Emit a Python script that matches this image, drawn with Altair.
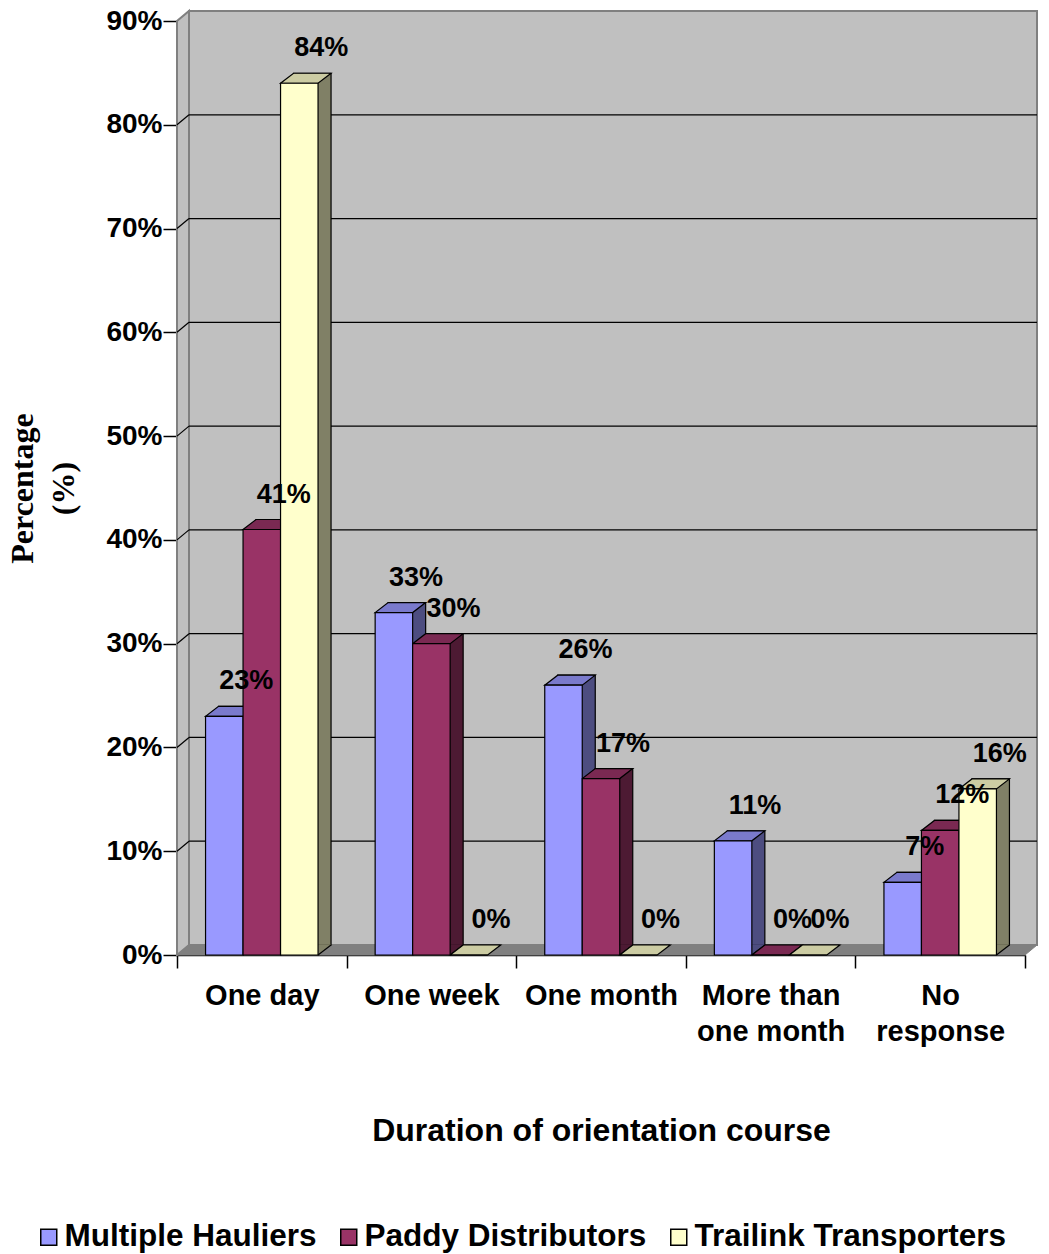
import altair as alt
import pandas as pd

# ---- data -------------------------------------------------------------
categories = ["One day", "One week", "One month", "More than one month", "No response"]
series = ["Multiple Hauliers", "Paddy Distributors", "Trailink Transporters"]
multiple_hauliers = [23, 33, 26, 11, 7]
paddy_distributors = [41, 30, 17, 0, 12]
trailink_transporters = [84, 0, 0, 0, 16]
y_ticks = [0, 10, 20, 30, 40, 50, 60, 70, 80, 90]
grid_levels = [10, 20, 30, 40, 50, 60, 70, 80]

# ---- styling ----------------------------------------------------------
front_colors = ["#9999ff", "#993366", "#ffffcc"]
top_colors = ["#7a7acc", "#7a2952", "#cccca3"]
side_colors = ["#4d4d80", "#4d1a33", "#808066"]
WALL = "#c0c0c0"
WALL_EDGE = "#808080"
FLOOR = "#808080"
SANS = "Liberation Sans"
SERIF = "Liberation Serif"

W, H = 848, 934            # plot area
STEP = W / len(categories)
BAR_W = 37.5
PAD_OUTER = (STEP / BAR_W - len(series)) / 2
DX, DY = 13, 10            # bar depth
WALL_DX, WALL_DY = 12, 10  # depth of back wall
EDGE = 1.2

rows = []
for cat, a, b, c in zip(categories, multiple_hauliers, paddy_distributors, trailink_transporters):
    for s, v in zip(series, (a, b, c)):
        rows.append({"category": cat, "series": s, "value": v, "label": f"{v}%"})
df = pd.DataFrame(rows)
grid_df = pd.DataFrame({"value": grid_levels})
one = pd.DataFrame({"value": [0]})

y_scale = alt.Scale(domain=[0, 90], nice=False, zero=True)
x_scale = alt.Scale(domain=categories, paddingInner=0, paddingOuter=0)


def xoff(shift=0):
    return alt.XOffset(
        "series:N", sort=series,
        scale=alt.Scale(type="band", domain=series, range=[shift, STEP + shift],
                        paddingInner=0, paddingOuter=PAD_OUTER),
    )


x_axis = alt.Axis(
    title="Duration of orientation course",
    domainColor="black", domainWidth=1.5,
    tickColor="black", tickWidth=1.5, tickSize=13, tickBand="extent",
    labelAngle=0, labelFont=SANS, labelFontSize=29, labelFontWeight="bold",
    labelColor="black", labelPadding=13, labelLineHeight=36, labelLimit=400,
    labelOverlap=False, labelBound=False,
    labelExpr=("datum.label == 'More than one month' ? ['More than', 'one month'] : "
               "datum.label == 'No response' ? ['No', 'response'] : datum.label"),
    titleFont=SANS, titleFontSize=32, titleFontWeight="bold", titleColor="black",
    titleX=W / 2, titleY=175, titleAlign="center", titleBaseline="middle",
    grid=False,
)
y_axis = alt.Axis(
    values=y_ticks, labelExpr="datum.value + '%'",
    domainColor="black", domainWidth=1.5,
    tickColor="black", tickWidth=1.5, tickSize=14,
    labelFont=SANS, labelFontSize=28, labelFontWeight="bold", labelColor="black",
    labelPadding=1,
    title=["Percentage", "(%)"], titleFont=SERIF, titleFontSize=32,
    titleFontWeight="bold", titleColor="black", titleAngle=270,
    titleX=-155, titleY=H / 2, titleAlign="center", titleBaseline="middle",
    titleLineHeight=41, grid=False,
)

x_enc = alt.X("category:N", sort=categories, scale=x_scale, axis=x_axis)
y_enc = alt.Y("value:Q", scale=y_scale, axis=y_axis)
y_zero = alt.Y(datum=0, scale=y_scale, axis=y_axis)

# ---- chart walls --------------------------------------------------------
back_wall = alt.Chart(one).mark_rect(
    fill=WALL, stroke=WALL_EDGE, strokeWidth=2, yOffset=-WALL_DY, y2Offset=-WALL_DY
).encode(
    x=alt.value(WALL_DX), x2=alt.value(W + WALL_DX),
    y=alt.Y(datum=90, scale=y_scale, axis=y_axis), y2=alt.Y2(datum=0),
)

left_wall_path = f"M0,0 L0,{-H} L{WALL_DX},{-H - WALL_DY} L{WALL_DX},{-WALL_DY} Z"
left_wall = alt.Chart(one).mark_point(
    shape=left_wall_path, size=4, filled=True, fill=WALL, stroke=WALL_EDGE,
    strokeWidth=2, opacity=1,
).encode(x=alt.value(0), y=y_enc)

floor_path = f"M0,0 L{WALL_DX},{-WALL_DY} L{W + WALL_DX},{-WALL_DY} L{W},0 Z"
floor = alt.Chart(one).mark_point(
    shape=floor_path, size=4, filled=True, fill=FLOOR, stroke=WALL_EDGE,
    strokeWidth=1, opacity=1,
).encode(x=alt.value(0), y=y_enc)

gridlines = alt.Chart(grid_df).mark_rule(
    color="black", strokeWidth=EDGE, yOffset=-WALL_DY
).encode(x=alt.value(WALL_DX), x2=alt.value(W + WALL_DX), y=y_enc)

side_gridlines = alt.Chart(grid_df).mark_point(
    shape=f"M0,0 L{WALL_DX},{-WALL_DY}", size=4, filled=False,
    stroke="black", strokeWidth=EDGE, opacity=1,
).encode(x=alt.value(0), y=y_enc)

# ---- 3D bars ------------------------------------------------------------
h = BAR_W / 2

side_faces = alt.Chart(df).mark_bar(
    stroke="black", strokeWidth=EDGE, yOffset=-DY, y2Offset=-DY
).encode(
    x=x_enc, xOffset=xoff(DX), y=y_enc, y2=alt.Y2(datum=0),
    color=alt.Color("series:N", sort=series,
                    scale=alt.Scale(domain=series, range=side_colors), legend=None),
)

foot_fill = alt.Chart(df).transform_filter("datum.value > 0").mark_point(
    shape=f"M{h},0 L{h},{-DY - 0.8} L{h + DX - 0.6},{-DY - 0.8} L{h + DX},{-DY} Z",
    size=4, filled=True, strokeWidth=0, opacity=1,
).encode(
    x=x_enc, xOffset=xoff(), y=y_zero,
    color=alt.Color("series:N", sort=series,
                    scale=alt.Scale(domain=series, range=side_colors), legend=None),
)

foot_edge = alt.Chart(df).transform_filter("datum.value > 0").mark_point(
    shape=f"M{h},0 L{h + DX},{-DY}", size=4, filled=False,
    stroke="black", strokeWidth=EDGE, opacity=1,
).encode(x=x_enc, xOffset=xoff(), y=y_zero)

top_faces = alt.Chart(df).mark_point(
    shape=f"M{-h},0 L{h},0 L{h + DX},{-DY} L{-h + DX},{-DY} Z",
    size=4, filled=True, stroke="black", strokeWidth=EDGE, opacity=1,
).encode(
    x=x_enc, xOffset=xoff(), y=y_enc,
    color=alt.Color("series:N", sort=series,
                    scale=alt.Scale(domain=series, range=top_colors), legend=None),
)

front_faces = alt.Chart(df).mark_bar(stroke="black", strokeWidth=EDGE).encode(
    x=x_enc, xOffset=xoff(), y=y_enc, y2=alt.Y2(datum=0),
    color=alt.Color(
        "series:N", sort=series,
        scale=alt.Scale(domain=series, range=front_colors),
        legend=alt.Legend(
            title=None, orient="none", legendX=-144, legendY=1200,
            direction="horizontal", symbolType="square", symbolSize=256,
            symbolStrokeColor="black", symbolStrokeWidth=1.5, symbolOpacity=1,
            labelFont=SANS, labelFontSize=31.5, labelFontWeight="bold",
            labelColor="black", labelOffset=0, columnPadding=16, padding=0,
            labelLimit=400,
        ),
    ),
)

labels = alt.Chart(df).mark_text(
    font=SANS, fontSize=27, fontWeight="bold", color="black",
    dx=22, dy=-35, align="center", baseline="middle",
).encode(x=x_enc, xOffset=xoff(), y=y_enc, text="label:N")

chart = alt.layer(
    back_wall, left_wall, floor, gridlines, side_gridlines,
    side_faces, foot_fill, foot_edge, top_faces, front_faces, labels,
).resolve_scale(
    color="independent", xOffset="independent"
).properties(
    width=W, height=H,
    autosize=alt.AutoSizeParams(type="none"),
    padding={"left": 177, "top": 21, "right": 24, "bottom": 299},
    background="white",
).configure_view(stroke=None)

chart.save("out.html", embed_options={"renderer": "svg", "actions": False})
